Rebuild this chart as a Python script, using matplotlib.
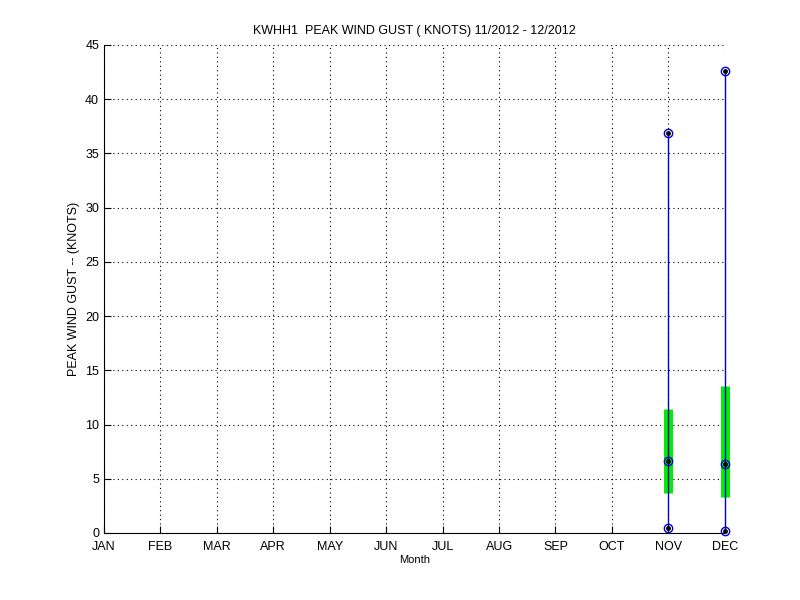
import matplotlib
matplotlib.use("Agg")
import matplotlib.pyplot as plt

months = ["JAN", "FEB", "MAR", "APR", "MAY", "JUN", "JUL", "AUG", "SEP", "OCT", "NOV", "DEC"]
data_months = [11, 12]
mins = [0.45, 0.2]
q1 = [3.7, 3.3]
medians = [6.6, 6.4]
q3 = [11.45, 13.55]
maxs = [36.9, 42.6]

plt.rcParams['font.family'] = ['Liberation Sans', 'DejaVu Sans']
fig = plt.figure(figsize=(8, 6), dpi=100)
ax = fig.add_axes([0.13, 0.1117, 0.776, 0.8133])

for m, lo, a, med, b, hi in zip(data_months, mins, q1, medians, q3, maxs):
    ax.plot([m, m], [a, b], color='#00ee00', lw=6.5, solid_capstyle='butt', zorder=3, clip_on=False)
    ax.plot([m, m], [lo, hi], color='#0000cc', lw=1.0, zorder=4, clip_on=False)
    ax.plot([m, m, m], [lo, med, hi], linestyle='none', marker='o', markersize=6,
            markerfacecolor='none', markeredgecolor='#0000cc', markeredgewidth=1.0, zorder=5, clip_on=False)
    ax.plot([m, m, m], [lo, med, hi], linestyle='none', marker='.', markersize=5,
            color='black', zorder=6, clip_on=False)

ax.set_xlim(1, 12)
ax.set_ylim(0, 45)
ax.set_xticks(range(1, 13))
ax.set_xticklabels(months)
ax.set_yticks(range(0, 46, 5))
ax.tick_params(direction='in', length=5, labelsize=9, colors='black', width=0.8)
ax.tick_params(axis='x', pad=6)
ax.grid(True, linestyle=(0, (1, 3)), color='black', linewidth=0.8)
ax.spines['top'].set_visible(False)
ax.spines['right'].set_visible(False)
ax.set_axisbelow(True)

ax.set_title("KWHH1  PEAK WIND GUST ( KNOTS) 11/2012 - 12/2012", fontsize=9, pad=8)
ax.set_ylabel("PEAK WIND GUST -- (KNOTS)", fontsize=9)
ax.set_xlabel("Month", fontsize=8, labelpad=1)

fig.savefig("out.png", dpi=100)
